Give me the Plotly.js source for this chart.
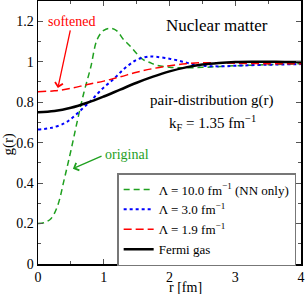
<!DOCTYPE html>
<html><head><meta charset="utf-8">
<script src="https://cdn.plot.ly/plotly-3.0.1.min.js"></script>
<style>html,body{margin:0;padding:0;background:#fff}#plot{width:305px;height:294px}</style>
</head><body><div id="plot"></div>
<script>
const rFermi = [0,0.25,0.5,0.75,1.0,1.25,1.5,1.75,2.0,2.25,2.5,2.75,3.0,3.25,3.5,3.75,4.0];
const gFermi = [0.75,0.756,0.772,0.797,0.828,0.862,0.896,0.926,0.952,0.972,0.986,0.994,0.9985,0.9999,0.9998,0.999,0.998];

const rL19 = [0,0.25,0.5,0.75,1.0,1.25,1.5,1.75,2.0,2.25,2.5,2.75,3.0,3.5,4.0];
const gL19 = [0.852,0.856,0.868,0.887,0.904,0.925,0.948,0.966,0.98,0.99,0.995,0.994,0.992,0.99,0.99];

const rL30 = [0,0.2,0.4,0.5,0.6,0.7,0.8,0.9,1.0,1.1,1.2,1.3,1.4,1.5,1.6,1.7,1.8,2.0,2.2,2.4,2.6,2.8,3.0,3.5,4.0];
const gL30 = [0.665,0.673,0.695,0.717,0.745,0.775,0.805,0.84,0.873,0.9,0.93,0.962,0.988,1.01,1.02,1.026,1.024,1.015,1.0,0.985,0.978,0.977,0.98,0.985,0.988];

const rL10 = [0,0.1,0.2,0.3,0.4,0.5,0.6,0.7,0.8,0.9,1.0,1.1,1.2,1.3,1.4,1.5,1.6,1.7,1.8,2.0,2.2,2.5,3.0,3.5,4.0];
const gL10 = [0.2,0.205,0.225,0.29,0.42,0.56,0.71,0.85,0.97,1.11,1.155,1.165,1.152,1.11,1.078,1.04,1.01,0.996,0.983,0.973,0.97,0.972,0.98,0.985,0.99];

const names = ["Λ = 10.0 fm<sup>−1</sup> (NN only)","Λ = 3.0 fm<sup>−1</sup>","Λ = 1.9 fm<sup>−1</sup>","Fermi gas"];

const serif = "Liberation Serif";
const traces = [
  {x:rL10,y:gL10,name:names[0],mode:"lines",line:{color:"#1fa01f",width:1.5,dash:"6px,4px",shape:"spline"}},
  {x:rL30,y:gL30,name:names[1],mode:"lines",line:{color:"#0000ff",width:2,dash:"dot",shape:"spline"}},
  {x:rL19,y:gL19,name:names[2],mode:"lines",line:{color:"#ff0000",width:1.5,dash:"8px,4px",shape:"spline"}},
  {x:rFermi,y:gFermi,name:names[3],mode:"lines",line:{color:"#000000",width:2.5,shape:"spline"}}
];
const axisCommon = {showgrid:false,zeroline:false,showline:true,linecolor:"#000",linewidth:1.5,mirror:"allticks",
  ticks:"inside",ticklen:5,tickcolor:"#555",tickwidth:1,tickfont:{family:serif,size:14,color:"#000"}};
const layout = {
  width:305,height:294,margin:{l:38,r:4,t:1,b:30},paper_bgcolor:"#fff",plot_bgcolor:"#fff",
  font:{family:serif,color:"#000"},
  xaxis:Object.assign({},axisCommon,{range:[0,4],dtick:1,tick0:0,minor:{dtick:0.5,ticks:"inside",ticklen:3,tickcolor:"#555"}}),
  yaxis:Object.assign({},axisCommon,{range:[0,1.3],dtick:0.2,tick0:0,minor:{dtick:0.1,ticks:"inside",ticklen:3,tickcolor:"#555"}}),
  showlegend:true,
  legend:{x:0.301,y:0.346,xanchor:"left",yanchor:"top",bgcolor:"#fff",bordercolor:"#777",borderwidth:1.5,
    font:{family:serif,size:13,color:"#000"},tracegroupgap:0,itemwidth:30},
  annotations:[
    {xref:"paper",yref:"paper",x:0.56,y:-0.088,text:"r [fm]",showarrow:false,xanchor:"center",yanchor:"middle",borderpad:0,font:{family:serif,size:14}},
    {xref:"paper",yref:"paper",x:-0.112,y:0.456,text:"g(r)",showarrow:false,textangle:-90,xanchor:"center",yanchor:"middle",font:{family:serif,size:15}},
    {xref:"x",yref:"y",x:2.72,y:1.177,text:"Nuclear matter",showarrow:false,font:{family:serif,size:17}},
    {xref:"x",yref:"y",x:2.64,y:0.807,text:"pair-distribution g(r)",showarrow:false,font:{family:serif,size:15}},
    {xref:"x",yref:"y",x:2.66,y:0.699,text:"k<sub>F</sub> = 1.35 fm<sup>−1</sup>",showarrow:false,font:{family:serif,size:15}},
    {xref:"x",yref:"y",x:0.504,y:1.198,text:"softened",showarrow:false,font:{family:serif,size:14,color:"#ff0000"}},
    {xref:"x",yref:"y",x:1.35,y:0.541,text:"original",showarrow:false,font:{family:serif,size:14,color:"#1fa01f"}},
    {xref:"x",yref:"y",x:0.302,y:0.87,axref:"x",ayref:"y",ax:0.496,ay:1.162,text:"",showarrow:true,arrowhead:4,arrowsize:1.2,arrowwidth:1.3,arrowcolor:"#ff0000"},
    {xref:"x",yref:"y",x:0.531,y:0.471,axref:"x",ayref:"y",ax:0.989,ay:0.536,text:"",showarrow:true,arrowhead:4,arrowsize:1.2,arrowwidth:1.3,arrowcolor:"#1fa01f"}
  ]
};
Plotly.newPlot("plot",traces,layout,{staticPlot:true,displayModeBar:false});
</script></body></html>
